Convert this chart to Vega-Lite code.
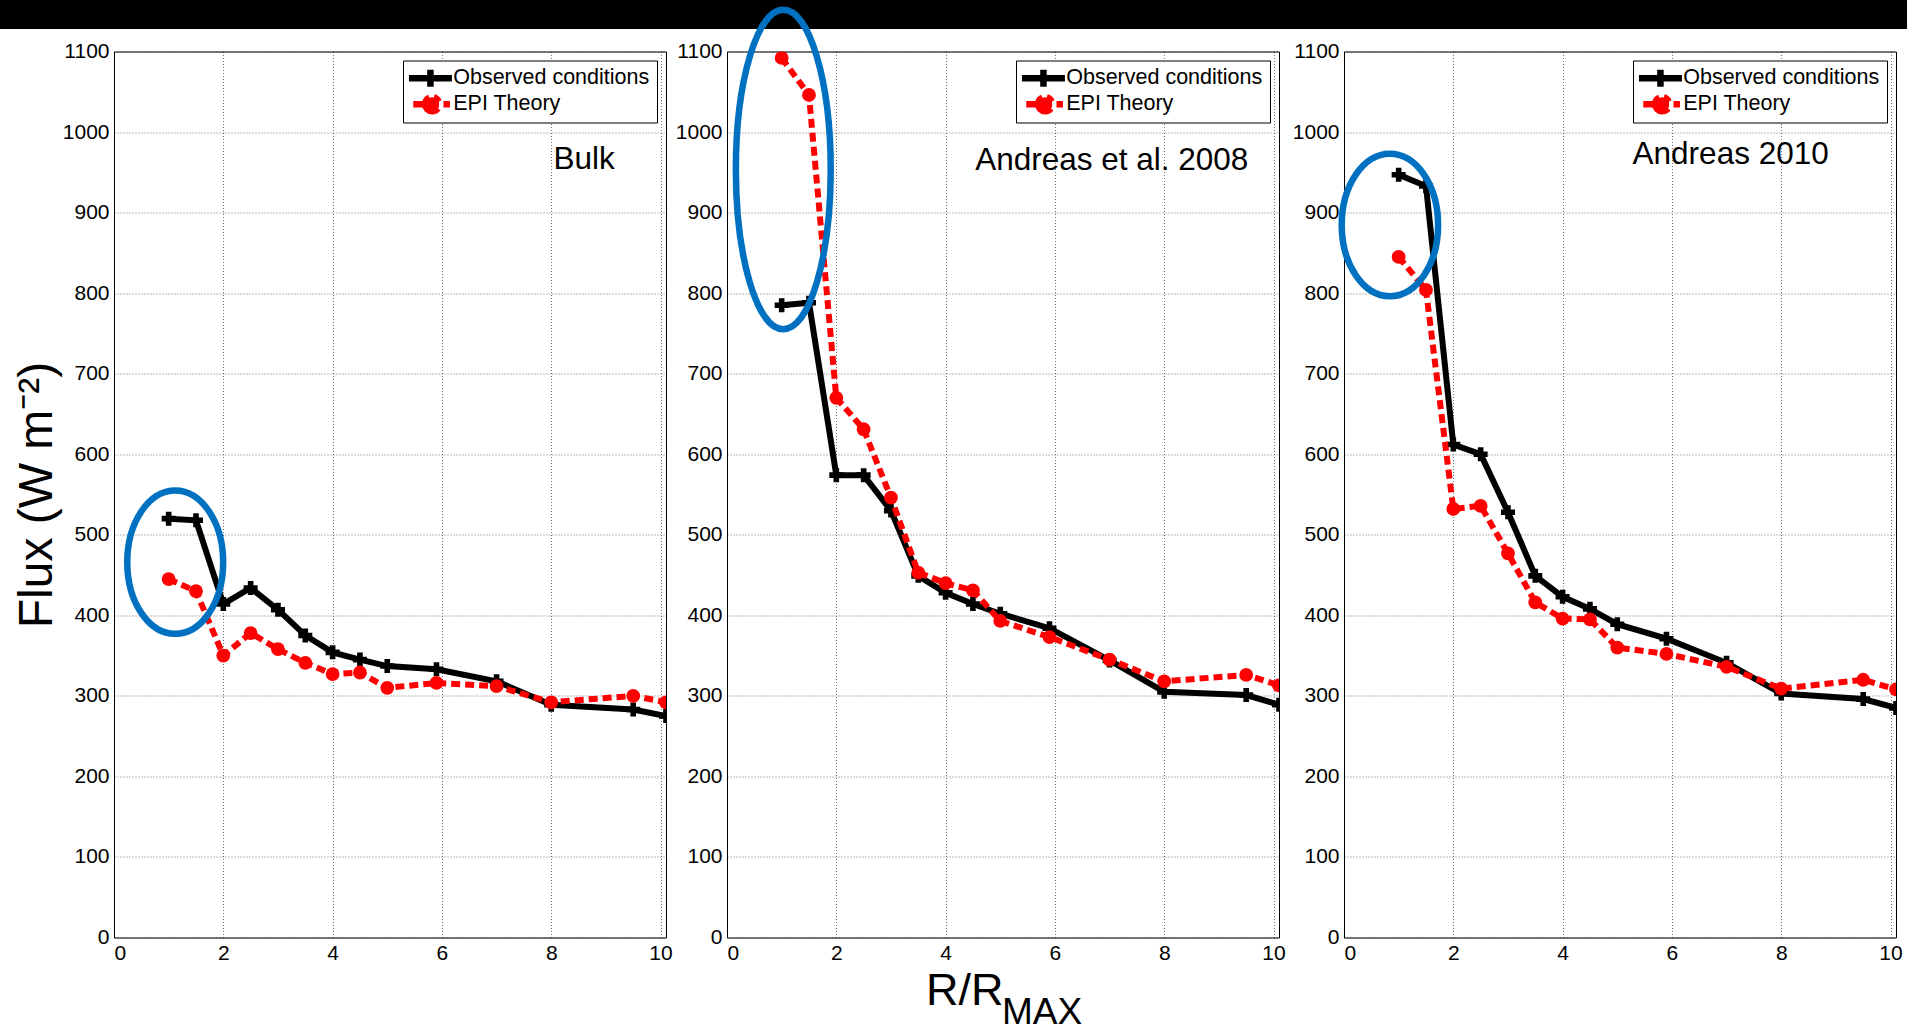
{
  "$schema": "https://vega.github.io/schema/vega-lite/v6.json",
  "padding": 0,
  "autosize": {"type": "pad"},
  "background": "white",
  "spacing": -23.5,
  "config": {
    "font": "Liberation Sans",
    "axis": {
      "labelFont": "Liberation Sans",
      "labelFontSize": 21,
      "labelColor": "#000",
      "ticks": false,
      "domain": false,
      "grid": true,
      "gridColor": "#000",
      "gridDash": [1, 2],
      "gridOpacity": 0.55,
      "gridWidth": 1,
      "labelPadding": 5,
      "titleFont": "Liberation Sans",
      "titleFontWeight": "normal",
      "titleColor": "#000"
    },
    "legend": {
      "title": null,
      "orient": "top-right",
      "offset": 9,
      "padding": 7,
      "strokeColor": "#000",
      "fillColor": "#fff",
      "labelFont": "Liberation Sans",
      "labelFontSize": 21.5,
      "labelColor": "#000",
      "labelLimit": 500,
      "rowPadding": 2,
      "symbolSize": 196,
      "symbolStrokeWidth": 6.5,
      "symbolOffset": 9.7,
      "labelOffset": 12
    }
  },
  "datasets": {
    "flux": [
      {"panel": "Bulk", "series": "Observed conditions", "x": 1.0, "y": 520},
      {"panel": "Bulk", "series": "Observed conditions", "x": 1.5, "y": 518},
      {"panel": "Bulk", "series": "Observed conditions", "x": 2.0, "y": 414},
      {"panel": "Bulk", "series": "Observed conditions", "x": 2.5, "y": 434},
      {"panel": "Bulk", "series": "Observed conditions", "x": 3.0, "y": 407},
      {"panel": "Bulk", "series": "Observed conditions", "x": 3.5, "y": 375},
      {"panel": "Bulk", "series": "Observed conditions", "x": 4.0, "y": 354},
      {"panel": "Bulk", "series": "Observed conditions", "x": 4.5, "y": 345},
      {"panel": "Bulk", "series": "Observed conditions", "x": 5.0, "y": 337},
      {"panel": "Bulk", "series": "Observed conditions", "x": 5.9, "y": 333},
      {"panel": "Bulk", "series": "Observed conditions", "x": 7.0, "y": 318},
      {"panel": "Bulk", "series": "Observed conditions", "x": 8.0, "y": 289},
      {"panel": "Bulk", "series": "Observed conditions", "x": 9.5, "y": 283},
      {"panel": "Bulk", "series": "Observed conditions", "x": 10.1, "y": 275},
      {"panel": "Bulk", "series": "EPI Theory", "x": 1.0, "y": 445},
      {"panel": "Bulk", "series": "EPI Theory", "x": 1.5, "y": 430},
      {"panel": "Bulk", "series": "EPI Theory", "x": 2.0, "y": 350},
      {"panel": "Bulk", "series": "EPI Theory", "x": 2.5, "y": 378},
      {"panel": "Bulk", "series": "EPI Theory", "x": 3.0, "y": 358},
      {"panel": "Bulk", "series": "EPI Theory", "x": 3.5, "y": 341},
      {"panel": "Bulk", "series": "EPI Theory", "x": 4.0, "y": 327},
      {"panel": "Bulk", "series": "EPI Theory", "x": 4.5, "y": 329},
      {"panel": "Bulk", "series": "EPI Theory", "x": 5.0, "y": 310},
      {"panel": "Bulk", "series": "EPI Theory", "x": 5.9, "y": 316},
      {"panel": "Bulk", "series": "EPI Theory", "x": 7.0, "y": 312},
      {"panel": "Bulk", "series": "EPI Theory", "x": 8.0, "y": 292},
      {"panel": "Bulk", "series": "EPI Theory", "x": 9.5, "y": 300},
      {"panel": "Bulk", "series": "EPI Theory", "x": 10.1, "y": 292},
      {"panel": "A2008", "series": "Observed conditions", "x": 1.0, "y": 785},
      {"panel": "A2008", "series": "Observed conditions", "x": 1.5, "y": 788},
      {"panel": "A2008", "series": "Observed conditions", "x": 2.0, "y": 574},
      {"panel": "A2008", "series": "Observed conditions", "x": 2.5, "y": 574},
      {"panel": "A2008", "series": "Observed conditions", "x": 3.0, "y": 530},
      {"panel": "A2008", "series": "Observed conditions", "x": 3.5, "y": 449},
      {"panel": "A2008", "series": "Observed conditions", "x": 4.0, "y": 428},
      {"panel": "A2008", "series": "Observed conditions", "x": 4.5, "y": 414},
      {"panel": "A2008", "series": "Observed conditions", "x": 5.0, "y": 402},
      {"panel": "A2008", "series": "Observed conditions", "x": 5.9, "y": 384},
      {"panel": "A2008", "series": "Observed conditions", "x": 7.0, "y": 344},
      {"panel": "A2008", "series": "Observed conditions", "x": 8.0, "y": 305},
      {"panel": "A2008", "series": "Observed conditions", "x": 9.5, "y": 301},
      {"panel": "A2008", "series": "Observed conditions", "x": 10.1, "y": 289},
      {"panel": "A2008", "series": "EPI Theory", "x": 1.0, "y": 1092},
      {"panel": "A2008", "series": "EPI Theory", "x": 1.5, "y": 1046},
      {"panel": "A2008", "series": "EPI Theory", "x": 2.0, "y": 670},
      {"panel": "A2008", "series": "EPI Theory", "x": 2.5, "y": 631},
      {"panel": "A2008", "series": "EPI Theory", "x": 3.0, "y": 546},
      {"panel": "A2008", "series": "EPI Theory", "x": 3.5, "y": 453},
      {"panel": "A2008", "series": "EPI Theory", "x": 4.0, "y": 440},
      {"panel": "A2008", "series": "EPI Theory", "x": 4.5, "y": 431},
      {"panel": "A2008", "series": "EPI Theory", "x": 5.0, "y": 393},
      {"panel": "A2008", "series": "EPI Theory", "x": 5.9, "y": 373},
      {"panel": "A2008", "series": "EPI Theory", "x": 7.0, "y": 345},
      {"panel": "A2008", "series": "EPI Theory", "x": 8.0, "y": 318},
      {"panel": "A2008", "series": "EPI Theory", "x": 9.5, "y": 326},
      {"panel": "A2008", "series": "EPI Theory", "x": 10.1, "y": 313},
      {"panel": "A2010", "series": "Observed conditions", "x": 1.0, "y": 947},
      {"panel": "A2010", "series": "Observed conditions", "x": 1.5, "y": 933},
      {"panel": "A2010", "series": "Observed conditions", "x": 2.0, "y": 612},
      {"panel": "A2010", "series": "Observed conditions", "x": 2.5, "y": 600},
      {"panel": "A2010", "series": "Observed conditions", "x": 3.0, "y": 528},
      {"panel": "A2010", "series": "Observed conditions", "x": 3.5, "y": 449},
      {"panel": "A2010", "series": "Observed conditions", "x": 4.0, "y": 423},
      {"panel": "A2010", "series": "Observed conditions", "x": 4.5, "y": 408},
      {"panel": "A2010", "series": "Observed conditions", "x": 5.0, "y": 389},
      {"panel": "A2010", "series": "Observed conditions", "x": 5.9, "y": 371},
      {"panel": "A2010", "series": "Observed conditions", "x": 7.0, "y": 341},
      {"panel": "A2010", "series": "Observed conditions", "x": 8.0, "y": 303},
      {"panel": "A2010", "series": "Observed conditions", "x": 9.5, "y": 296},
      {"panel": "A2010", "series": "Observed conditions", "x": 10.1, "y": 285},
      {"panel": "A2010", "series": "EPI Theory", "x": 1.0, "y": 845},
      {"panel": "A2010", "series": "EPI Theory", "x": 1.5, "y": 804},
      {"panel": "A2010", "series": "EPI Theory", "x": 2.0, "y": 532},
      {"panel": "A2010", "series": "EPI Theory", "x": 2.5, "y": 536},
      {"panel": "A2010", "series": "EPI Theory", "x": 3.0, "y": 477},
      {"panel": "A2010", "series": "EPI Theory", "x": 3.5, "y": 416},
      {"panel": "A2010", "series": "EPI Theory", "x": 4.0, "y": 396},
      {"panel": "A2010", "series": "EPI Theory", "x": 4.5, "y": 395},
      {"panel": "A2010", "series": "EPI Theory", "x": 5.0, "y": 360},
      {"panel": "A2010", "series": "EPI Theory", "x": 5.9, "y": 352},
      {"panel": "A2010", "series": "EPI Theory", "x": 7.0, "y": 336},
      {"panel": "A2010", "series": "EPI Theory", "x": 8.0, "y": 309},
      {"panel": "A2010", "series": "EPI Theory", "x": 9.5, "y": 320},
      {"panel": "A2010", "series": "EPI Theory", "x": 10.1, "y": 308}
    ],
    "ellipses": [
      {"panel": "Bulk", "x": 1.12, "y": 466},
      {"panel": "A2008", "x": 1.03, "y": 953.5},
      {"panel": "A2010", "x": 0.84, "y": 884.6}
    ],
    "notes": [
      {"panel": "Bulk", "x": 8.04, "y": 954, "label": "Bulk"},
      {"panel": "A2008", "x": 4.54, "y": 953, "label": "Andreas et al. 2008"},
      {"panel": "A2010", "x": 5.28, "y": 960.6, "label": "Andreas 2010"}
    ],
    "subscript": [
      {"panel": "A2008", "x": 5.03, "y": -108, "label": "MAX"}
    ]
  },
  "vconcat": [
    {
      "width": 1907,
      "height": 29,
      "view": {"fill": "black", "stroke": null},
      "data": {"values": [{"a": 1}]},
      "mark": {"type": "text", "text": " "},
      "encoding": {}
    },
    {
      "spacing": 1,
      "resolve": {"scale": {"color": "independent"}, "legend": {"color": "independent"}},
      "hconcat": [
        {
          "width": 11,
          "height": 10,
          "view": {"fill": null, "stroke": null},
          "data": {"values": [{"a": 1}]},
          "mark": {"type": "text", "text": " "},
          "encoding": {}
        },
        {
          "width": 552,
          "height": 886,
          "view": {"stroke": "black", "strokeWidth": 1, "fill": "white"},
          "encoding": {
            "x": {"field": "x", "type": "quantitative", "scale": {"domain": [0, 10.1], "nice": false, "zero": false}, "axis": {"values": [0, 2, 4, 6, 8, 10], "format": "d", "title": null}},
            "y": {"field": "y", "type": "quantitative", "scale": {"domain": [0, 1100], "nice": false}, "axis": {"values": [0, 100, 200, 300, 400, 500, 600, 700, 800, 900, 1000, 1100], "format": "d", "title": "Flux (W m⁻²)", "titleFontSize": 48, "titlePadding": 1}}
          },
          "layer": [
            {
              "data": {"name": "flux"},
              "transform": [{"filter": "datum.panel === 'Bulk' && datum.series === 'Observed conditions'"}],
              "mark": {"type": "line", "strokeWidth": 6, "clip": true},
              "encoding": {"color": {"field": "series", "type": "nominal", "scale": {"domain": ["Observed conditions", "EPI Theory"], "range": ["#000000", "#ff0000"]},
                "legend": {"encode": {"symbols": {"update": {
                  "shape": {"signal": "datum.value === 'EPI Theory' ? 'M-3.07,0H3.07M1.24,0A1,1 0 1,1 -0.76,0A1,1 0 1,1 1.24,0Z' : 'M-3.07,0H3.07M0,-1.21V1.21'"},
                  "fill": {"signal": "datum.value === 'EPI Theory' ? '#ff0000' : 'transparent'"},
                  "stroke": {"signal": "datum.value === 'EPI Theory' ? '#ff0000' : '#000000'"},
                  "strokeDash": {"signal": "datum.value === 'EPI Theory' ? [0, 4.3, 25.7, 4.5, 6.5, 200] : [1, 0]"},
                  "strokeWidth": {"value": 6.5},
                  "strokeJoin": {"value": "round"},
                  "opacity": {"value": 1}}}}}}}
            },
            {
              "data": {"name": "flux"},
              "transform": [{"filter": "datum.panel === 'Bulk' && datum.series === 'Observed conditions'"}],
              "mark": {"type": "point", "shape": "cross", "filled": true, "size": 196, "color": "#000000", "opacity": 1, "clip": true}
            },
            {
              "data": {"name": "flux"},
              "transform": [{"filter": "datum.panel === 'Bulk' && datum.series === 'EPI Theory'"}],
              "mark": {"type": "line", "strokeWidth": 6, "strokeDash": [9, 5], "clip": true},
              "encoding": {"color": {"field": "series", "type": "nominal", "scale": {"domain": ["Observed conditions", "EPI Theory"], "range": ["#000000", "#ff0000"]},
                "legend": {"encode": {"symbols": {"update": {
                  "shape": {"signal": "datum.value === 'EPI Theory' ? 'M-3.07,0H3.07M1.24,0A1,1 0 1,1 -0.76,0A1,1 0 1,1 1.24,0Z' : 'M-3.07,0H3.07M0,-1.21V1.21'"},
                  "fill": {"signal": "datum.value === 'EPI Theory' ? '#ff0000' : 'transparent'"},
                  "stroke": {"signal": "datum.value === 'EPI Theory' ? '#ff0000' : '#000000'"},
                  "strokeDash": {"signal": "datum.value === 'EPI Theory' ? [0, 4.3, 25.7, 4.5, 6.5, 200] : [1, 0]"},
                  "strokeWidth": {"value": 6.5},
                  "strokeJoin": {"value": "round"},
                  "opacity": {"value": 1}}}}}}}
            },
            {
              "data": {"name": "flux"},
              "transform": [{"filter": "datum.panel === 'Bulk' && datum.series === 'EPI Theory'"}],
              "mark": {"type": "point", "shape": "circle", "filled": true, "size": 190, "color": "#ff0000", "opacity": 1, "clip": true}
            },
            {
              "data": {"name": "ellipses"},
              "transform": [{"filter": "datum.panel === 'Bulk'"}],
              "mark": {"type": "point", "shape": "M-0.669,0A0.669,1 0 1,0 0.669,0A0.669,1 0 1,0 -0.669,0Z", "size": 20564, "filled": false, "color": "#0070C0", "strokeWidth": 6.5, "strokeJoin": "round", "opacity": 1}
            },
            {
              "data": {"name": "notes"},
              "transform": [{"filter": "datum.panel === 'Bulk'"}],
              "mark": {"type": "text", "align": "left", "baseline": "alphabetic", "fontSize": 31.5, "font": "Liberation Sans", "color": "#000"},
              "encoding": {"text": {"field": "label", "type": "nominal"}}
            }
          ]
        },
        {
          "width": 552,
          "height": 886,
          "view": {"stroke": "black", "strokeWidth": 1, "fill": "white"},
          "encoding": {
            "x": {"field": "x", "type": "quantitative", "scale": {"domain": [0, 10.1], "nice": false, "zero": false}, "axis": {"values": [0, 2, 4, 6, 8, 10], "format": "d", "title": "R/R ", "titleFontSize": 45, "titleAlign": "right", "titlePadding": 5}},
            "y": {"field": "y", "type": "quantitative", "scale": {"domain": [0, 1100], "nice": false}, "axis": {"values": [0, 100, 200, 300, 400, 500, 600, 700, 800, 900, 1000, 1100], "format": "d", "title": null}}
          },
          "layer": [
            {
              "data": {"name": "flux"},
              "transform": [{"filter": "datum.panel === 'A2008' && datum.series === 'Observed conditions'"}],
              "mark": {"type": "line", "strokeWidth": 6, "clip": true},
              "encoding": {"color": {"field": "series", "type": "nominal", "scale": {"domain": ["Observed conditions", "EPI Theory"], "range": ["#000000", "#ff0000"]},
                "legend": {"encode": {"symbols": {"update": {
                  "shape": {"signal": "datum.value === 'EPI Theory' ? 'M-3.07,0H3.07M1.24,0A1,1 0 1,1 -0.76,0A1,1 0 1,1 1.24,0Z' : 'M-3.07,0H3.07M0,-1.21V1.21'"},
                  "fill": {"signal": "datum.value === 'EPI Theory' ? '#ff0000' : 'transparent'"},
                  "stroke": {"signal": "datum.value === 'EPI Theory' ? '#ff0000' : '#000000'"},
                  "strokeDash": {"signal": "datum.value === 'EPI Theory' ? [0, 4.3, 25.7, 4.5, 6.5, 200] : [1, 0]"},
                  "strokeWidth": {"value": 6.5},
                  "strokeJoin": {"value": "round"},
                  "opacity": {"value": 1}}}}}}}
            },
            {
              "data": {"name": "flux"},
              "transform": [{"filter": "datum.panel === 'A2008' && datum.series === 'Observed conditions'"}],
              "mark": {"type": "point", "shape": "cross", "filled": true, "size": 196, "color": "#000000", "opacity": 1, "clip": true}
            },
            {
              "data": {"name": "flux"},
              "transform": [{"filter": "datum.panel === 'A2008' && datum.series === 'EPI Theory'"}],
              "mark": {"type": "line", "strokeWidth": 6, "strokeDash": [9, 5], "clip": true},
              "encoding": {"color": {"field": "series", "type": "nominal", "scale": {"domain": ["Observed conditions", "EPI Theory"], "range": ["#000000", "#ff0000"]},
                "legend": {"encode": {"symbols": {"update": {
                  "shape": {"signal": "datum.value === 'EPI Theory' ? 'M-3.07,0H3.07M1.24,0A1,1 0 1,1 -0.76,0A1,1 0 1,1 1.24,0Z' : 'M-3.07,0H3.07M0,-1.21V1.21'"},
                  "fill": {"signal": "datum.value === 'EPI Theory' ? '#ff0000' : 'transparent'"},
                  "stroke": {"signal": "datum.value === 'EPI Theory' ? '#ff0000' : '#000000'"},
                  "strokeDash": {"signal": "datum.value === 'EPI Theory' ? [0, 4.3, 25.7, 4.5, 6.5, 200] : [1, 0]"},
                  "strokeWidth": {"value": 6.5},
                  "strokeJoin": {"value": "round"},
                  "opacity": {"value": 1}}}}}}}
            },
            {
              "data": {"name": "flux"},
              "transform": [{"filter": "datum.panel === 'A2008' && datum.series === 'EPI Theory'"}],
              "mark": {"type": "point", "shape": "circle", "filled": true, "size": 190, "color": "#ff0000", "opacity": 1, "clip": true}
            },
            {
              "data": {"name": "ellipses"},
              "transform": [{"filter": "datum.panel === 'A2008'"}],
              "mark": {"type": "point", "shape": "M-0.297,0A0.297,1 0 1,0 0.297,0A0.297,1 0 1,0 -0.297,0Z", "size": 102016, "filled": false, "color": "#0070C0", "strokeWidth": 6.5, "strokeJoin": "round", "opacity": 1}
            },
            {
              "data": {"name": "notes"},
              "transform": [{"filter": "datum.panel === 'A2008'"}],
              "mark": {"type": "text", "align": "left", "baseline": "alphabetic", "fontSize": 31.5, "font": "Liberation Sans", "color": "#000"},
              "encoding": {"text": {"field": "label", "type": "nominal"}}
            },
            {
              "data": {"name": "subscript"},
              "mark": {"type": "text", "align": "left", "baseline": "alphabetic", "fontSize": 37, "font": "Liberation Sans", "color": "#000"},
              "encoding": {"text": {"field": "label", "type": "nominal"}}
            }
          ]
        },
        {
          "width": 552,
          "height": 886,
          "view": {"stroke": "black", "strokeWidth": 1, "fill": "white"},
          "encoding": {
            "x": {"field": "x", "type": "quantitative", "scale": {"domain": [0, 10.1], "nice": false, "zero": false}, "axis": {"values": [0, 2, 4, 6, 8, 10], "format": "d", "title": null}},
            "y": {"field": "y", "type": "quantitative", "scale": {"domain": [0, 1100], "nice": false}, "axis": {"values": [0, 100, 200, 300, 400, 500, 600, 700, 800, 900, 1000, 1100], "format": "d", "title": " ", "titleFontSize": 3, "titlePadding": 1.5}}
          },
          "layer": [
            {
              "data": {"name": "flux"},
              "transform": [{"filter": "datum.panel === 'A2010' && datum.series === 'Observed conditions'"}],
              "mark": {"type": "line", "strokeWidth": 6, "clip": true},
              "encoding": {"color": {"field": "series", "type": "nominal", "scale": {"domain": ["Observed conditions", "EPI Theory"], "range": ["#000000", "#ff0000"]},
                "legend": {"encode": {"symbols": {"update": {
                  "shape": {"signal": "datum.value === 'EPI Theory' ? 'M-3.07,0H3.07M1.24,0A1,1 0 1,1 -0.76,0A1,1 0 1,1 1.24,0Z' : 'M-3.07,0H3.07M0,-1.21V1.21'"},
                  "fill": {"signal": "datum.value === 'EPI Theory' ? '#ff0000' : 'transparent'"},
                  "stroke": {"signal": "datum.value === 'EPI Theory' ? '#ff0000' : '#000000'"},
                  "strokeDash": {"signal": "datum.value === 'EPI Theory' ? [0, 4.3, 25.7, 4.5, 6.5, 200] : [1, 0]"},
                  "strokeWidth": {"value": 6.5},
                  "strokeJoin": {"value": "round"},
                  "opacity": {"value": 1}}}}}}}
            },
            {
              "data": {"name": "flux"},
              "transform": [{"filter": "datum.panel === 'A2010' && datum.series === 'Observed conditions'"}],
              "mark": {"type": "point", "shape": "cross", "filled": true, "size": 196, "color": "#000000", "opacity": 1, "clip": true}
            },
            {
              "data": {"name": "flux"},
              "transform": [{"filter": "datum.panel === 'A2010' && datum.series === 'EPI Theory'"}],
              "mark": {"type": "line", "strokeWidth": 6, "strokeDash": [9, 5], "clip": true},
              "encoding": {"color": {"field": "series", "type": "nominal", "scale": {"domain": ["Observed conditions", "EPI Theory"], "range": ["#000000", "#ff0000"]},
                "legend": {"encode": {"symbols": {"update": {
                  "shape": {"signal": "datum.value === 'EPI Theory' ? 'M-3.07,0H3.07M1.24,0A1,1 0 1,1 -0.76,0A1,1 0 1,1 1.24,0Z' : 'M-3.07,0H3.07M0,-1.21V1.21'"},
                  "fill": {"signal": "datum.value === 'EPI Theory' ? '#ff0000' : 'transparent'"},
                  "stroke": {"signal": "datum.value === 'EPI Theory' ? '#ff0000' : '#000000'"},
                  "strokeDash": {"signal": "datum.value === 'EPI Theory' ? [0, 4.3, 25.7, 4.5, 6.5, 200] : [1, 0]"},
                  "strokeWidth": {"value": 6.5},
                  "strokeJoin": {"value": "round"},
                  "opacity": {"value": 1}}}}}}}
            },
            {
              "data": {"name": "flux"},
              "transform": [{"filter": "datum.panel === 'A2010' && datum.series === 'EPI Theory'"}],
              "mark": {"type": "point", "shape": "circle", "filled": true, "size": 190, "color": "#ff0000", "opacity": 1, "clip": true}
            },
            {
              "data": {"name": "ellipses"},
              "transform": [{"filter": "datum.panel === 'A2010'"}],
              "mark": {"type": "point", "shape": "M-0.677,0A0.677,1 0 1,0 0.677,0A0.677,1 0 1,0 -0.677,0Z", "size": 20278, "filled": false, "color": "#0070C0", "strokeWidth": 6.5, "strokeJoin": "round", "opacity": 1}
            },
            {
              "data": {"name": "notes"},
              "transform": [{"filter": "datum.panel === 'A2010'"}],
              "mark": {"type": "text", "align": "left", "baseline": "alphabetic", "fontSize": 31.5, "font": "Liberation Sans", "color": "#000"},
              "encoding": {"text": {"field": "label", "type": "nominal"}}
            }
          ]
        }
      ]
    }
  ]
}
